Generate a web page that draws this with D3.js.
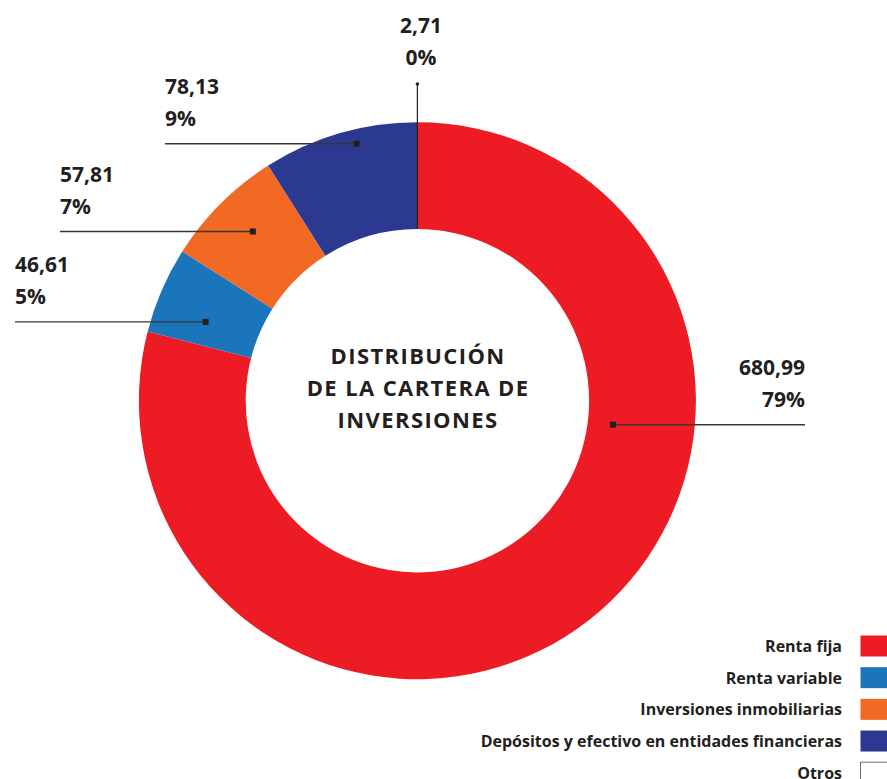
<!DOCTYPE html>
<html>
<head>
<meta charset="utf-8">
<script src="https://cdn.jsdelivr.net/npm/d3@7"></script>
<style>
  body { margin: 0; background: #fff; }
  svg { display: block; font-family: "Open Sans", sans-serif; }
</style>
</head>
<body>
<div id="chart"></div>
<script>
// data
const categories = ["Renta fija", "Renta variable", "Inversiones inmobiliarias",
  "Depósitos y efectivo en entidades financieras", "Otros"]
const values = [680.99, 46.61, 57.81, 78.13, 2.71]
const valueLabels = ["680,99", "46,61", "57,81", "78,13", "2,71"]
const percents = [79, 5, 7, 9, 0]
const colors = ["#ed1c24", "#1b75bb", "#f26924", "#2b3990", "#ffffff"]
const titleLines = ["DISTRIBUCIÓN", "DE LA CARTERA DE", "INVERSIONES"]

// where each leader line starts (polar, in degrees clockwise from top) and where it ends
const leaderLayout = [
  {angle: 97, r: 197, endX: 805, side: "right"},
  {angle: 290.4, r: 226, endX: 15, side: "left"},
  {angle: 315.8, r: 236, endX: 60, side: "left"},
  {angle: 346.7, r: 264, endX: 165, side: "left"},
  {angle: 0, r: 172, endY: 84, side: "top"}
]

const width = 887, height = 779
const cx = 417.4, cy = 400.7
const outerR = 278.5, innerR = 171.7
const ink = "#231f20"

const svg = d3.select("#chart").append("svg")
  .attr("width", width)
  .attr("height", height)

const rows = categories.map((c, i) => ({
  name: c, value: values[i], label: valueLabels[i], pct: percents[i], color: colors[i]
}))

// slices are sized by the rounded percentages shown in the labels
const pie = d3.pie().sort(null).value(d => d.pct)
const arc = d3.arc().innerRadius(innerR).outerRadius(outerR)

const donut = svg.append("g").attr("transform", `translate(${cx},${cy})`)
donut.selectAll("path")
  .data(pie(rows))
  .join("path")
    .attr("d", arc)
    .attr("fill", d => d.data.color)

// center title
const title = svg.append("text")
  .attr("text-anchor", "middle")
  .attr("font-size", 22)
  .attr("font-weight", 700)
  .attr("letter-spacing", 1.4)
  .attr("fill", ink)
title.selectAll("tspan")
  .data(titleLines)
  .join("tspan")
    .attr("x", cx + 0.7)
    .attr("y", (d, i) => 363.5 + i * 32.2)
    .text(d => d)

// leader lines and labels
const polar = (angle, r) => {
  const a = angle * Math.PI / 180
  return [cx + r * Math.sin(a), cy - r * Math.cos(a)]
}

const labels = svg.append("g")
  .attr("fill", ink)
  .attr("font-size", 21)
  .attr("font-weight", 700)

rows.forEach((row, i) => {
  const lay = leaderLayout[i]
  const [ax, ay] = polar(lay.angle, lay.r)
  const g = labels.append("g")

  if (lay.side === "top") {
    g.append("line")
      .attr("x1", ax).attr("y1", ay)
      .attr("x2", ax).attr("y2", lay.endY)
      .attr("stroke", ink).attr("stroke-width", 1.2)
    g.append("circle")
      .attr("cx", ax).attr("cy", lay.endY).attr("r", 1.8)
      .attr("fill", ink)
    g.append("text")
      .attr("x", ax + 3.5).attr("y", lay.endY - 51)
      .attr("text-anchor", "middle")
      .text(row.label)
    g.append("text")
      .attr("x", ax + 3.5).attr("y", lay.endY - 19)
      .attr("text-anchor", "middle")
      .text(row.pct + "%")
    return
  }

  g.append("line")
    .attr("x1", ax).attr("y1", ay)
    .attr("x2", lay.endX).attr("y2", ay)
    .attr("stroke", "#3a3637").attr("stroke-width", 1.4)
  g.append("rect")
    .attr("x", ax - 3).attr("y", ay - 3)
    .attr("width", 6).attr("height", 6)
    .attr("fill", ink)

  const anchor = lay.side === "right" ? "end" : "start"
  g.append("text")
    .attr("x", lay.endX).attr("y", ay - 50)
    .attr("text-anchor", anchor)
    .text(row.label)
  g.append("text")
    .attr("x", lay.endX).attr("y", ay - 17.5)
    .attr("text-anchor", anchor)
    .text(row.pct + "%")
})

// legend, bottom right
const legendY = d3.scalePoint(d3.range(categories.length), [635, 761.7])
const legend = svg.append("g")
  .attr("font-size", 16)
  .attr("font-weight", 700)
  .attr("fill", ink)

legend.selectAll("g")
  .data(rows)
  .join("g")
    .attr("transform", (d, i) => `translate(0,${legendY(i)})`)
    .call(g => g.append("rect")
      .attr("x", 860.5).attr("y", 0.5)
      .attr("width", 32).attr("height", 21)
      .attr("fill", d => d.color)
      .attr("stroke", d => d.name === "Otros" ? "#6d6e71" : "none")
      .attr("stroke-width", 1))
    .call(g => g.append("text")
      .attr("x", 842)
      .attr("y", 17)
      .attr("text-anchor", "end")
      .text(d => d.name))
</script>
</body>
</html>
